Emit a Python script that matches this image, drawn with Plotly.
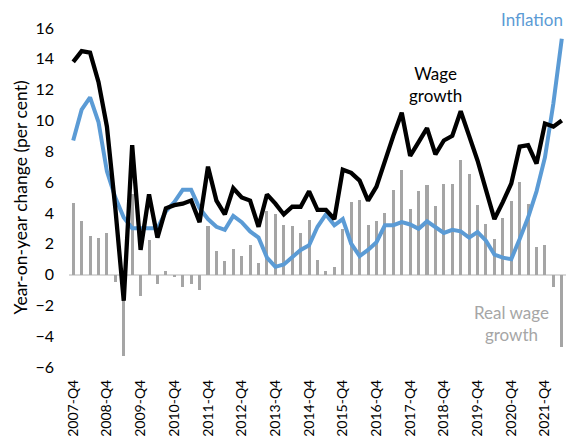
import plotly.graph_objects as go

# Quarterly categories 2007-Q4 .. 2022-Q2
quarters = ["2007-Q4"] + [f"{y}-Q{q}" for y in range(2008, 2022) for q in range(1, 5)] + ["2022-Q1", "2022-Q2"]
tick_labels = [f"{y}-Q4" for y in range(2007, 2022)]

wage_growth = [13.8, 14.5, 14.4, 12.5, 9.6, 4.3, -1.7, 8.4, 1.6, 5.2,
               2.4, 4.3, 4.5, 4.6, 4.8, 3.4, 7.0, 4.8, 3.9, 5.6,
               5.0, 4.8, 3.1, 5.2, 4.6, 3.9, 4.4, 4.4, 5.4, 4.2,
               4.2, 3.6, 6.8, 6.6, 6.1, 4.8, 5.7, 7.4, 9.0, 10.5,
               7.7, 8.6, 9.5, 7.8, 8.7, 9.0, 10.6, 9.0, 7.4, 5.5,
               3.6, 4.7, 5.9, 8.3, 8.4, 7.2, 9.8, 9.6, 10.0]

inflation = [8.7, 10.7, 11.5, 9.9, 6.7, 5.0, 3.7, 3.0, 3.0, 3.0,
             3.0, 4.1, 4.7, 5.5, 5.5, 4.3, 3.6, 3.1, 2.9, 3.8,
             3.4, 2.8, 2.4, 1.1, 0.5, 0.65, 1.1, 1.6, 1.9, 3.1,
             3.9, 3.2, 3.6, 2.0, 1.2, 1.6, 2.1, 3.2, 3.2, 3.4,
             3.25, 2.97, 3.45, 3.1, 2.7, 2.9, 2.8, 2.4, 2.75, 2.2,
             1.3, 1.1, 1.0, 2.3, 3.7, 5.4, 7.6, 11.1, 15.3]

real_wage_growth = [4.64, 3.47, 2.47, 2.39, 2.69, -0.5, -5.27, 5.2, -1.41, 2.21,
                    -0.6, 0.26, -0.17, -0.82, -0.6, -0.98, 3.15, 1.5, 0.91, 1.63,
                    1.19, 1.89, 0.74, 4.12, 3.95, 3.23, 3.17, 2.69, 3.52, 0.95,
                    0.22, 0.48, 2.97, 4.71, 4.82, 3.19, 3.47, 4.02, 5.47, 6.81,
                    4.27, 5.4, 5.79, 4.43, 5.9, 5.9, 7.42, 6.51, 4.49, 3.25,
                    2.32, 3.67, 4.77, 6.01, 4.56, 1.82, 1.95, -0.82, -4.69]

FONT = "Lato"

fig = go.Figure()
fig.add_trace(go.Bar(x=quarters, y=real_wage_growth, marker_color="#A5A5A5",
                     marker_line_width=0, width=0.36, name="Real wage growth"))
fig.add_trace(go.Scatter(x=quarters, y=inflation, mode="lines",
                         line=dict(color="#5B9BD5", width=4), name="Inflation"))
fig.add_trace(go.Scatter(x=quarters, y=wage_growth, mode="lines",
                         line=dict(color="#000000", width=4.3), name="Wage growth"))

fig.update_layout(
    width=566, height=437,
    margin=dict(l=69, r=0, t=28, b=70, autoexpand=False),
    plot_bgcolor="white", paper_bgcolor="white",
    showlegend=False,
    font=dict(family=FONT, size=15, color="#000000"),
    bargap=0,
)
fig.update_xaxes(
    type="category", categoryorder="array", categoryarray=quarters,
    range=[-0.5, len(quarters) - 0.5],
    tickmode="array", tickvals=tick_labels, ticktext=tick_labels,
    tickangle=-90, tickfont=dict(size=14, color="#000000"),
    showgrid=False, showline=False, zeroline=False, ticks="", ticklabelstandoff=9,
    automargin=False,
)
fig.update_yaxes(
    range=[-6, 16], dtick=2, tick0=0,
    showgrid=False, showline=False,
    zeroline=True, zerolinecolor="#D9D9D9", zerolinewidth=2,
    tickfont=dict(size=16, color="#000000"),
    ticks="", ticklabelstandoff=14, automargin=False,
    title=dict(text="Year-on-year change (per cent)", font=dict(size=17.5, color="#000000"), standoff=3),
)

fig.add_annotation(xref="paper", yref="paper", x=0.738, y=0.832,
                   text="Wage<br>growth", showarrow=False,
                   font=dict(family=FONT, size=17, color="#000000"),
                   xanchor="center", yanchor="middle", align="center")
fig.add_annotation(xref="paper", yref="paper", x=0.997, y=1.024,
                   text="Inflation", showarrow=False,
                   font=dict(family=FONT, size=17, color="#5B9BD5"),
                   xanchor="right", yanchor="middle")
fig.add_annotation(xref="paper", yref="paper", x=0.891, y=0.129,
                   text="Real wage<br>growth", showarrow=False,
                   font=dict(family=FONT, size=17, color="#A6A6A6"),
                   xanchor="center", yanchor="middle", align="center")

fig.write_html("out.html", config={"displayModeBar": False},
               post_script="document.body.style.margin='0';")
